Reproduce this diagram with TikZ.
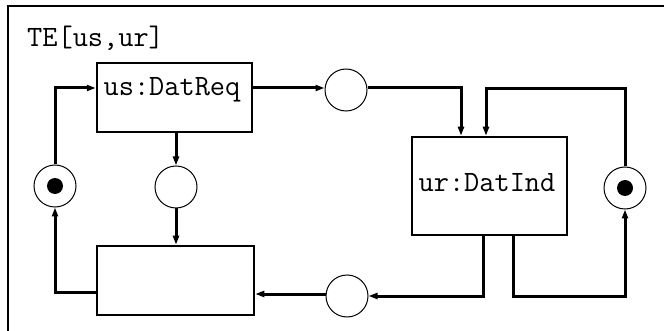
\documentclass[tikz,border=0pt]{standalone}
\usetikzlibrary{arrows.meta}
\begin{document}
\begin{tikzpicture}[x=1pt,y=-1pt,
  wire/.style={line width=3pt,-{Triangle[length=9pt,width=6pt]}},
  plainwire/.style={line width=3pt},
  trans/.style={draw,line width=2.5pt,rectangle,inner sep=0pt},
  place/.style={draw,line width=1pt,circle,minimum size=42pt,inner sep=0pt},
  token/.style={fill,circle,minimum size=16pt,inner sep=0pt},
  lbl/.style={font=\fontsize{29.5}{35}\selectfont\ttfamily,inner sep=0pt}]
  \useasboundingbox (0,0) rectangle (664,331);
  \clip (0,0) rectangle (664,331);
  % outer frame (runs past the page edge on the right and bottom)
  \draw[line width=2.5pt] (8,360) -- (8,6) -- (700,6);
  \node[lbl,anchor=base west] (title) at (27,47) {TE[us,ur]};

  % transitions
  \node[trans,minimum width=155pt,minimum height=69pt] (us) at (174.5,97.5) {};
  \node[lbl] (uslbl) at (172,90) {us:DatReq};
  \node[trans,minimum width=155pt,minimum height=98pt] (ur) at (489.5,186) {};
  \node[lbl] (urlbl) at (487,183) {ur:DatInd};
  \node[trans,minimum width=157pt,minimum height=69pt] (env) at (175.5,280.5) {};

  % places
  \node[place] (pl) at (55,186) {};
  \node[token] (tl) at (pl.center) {};
  \node[place] (pm) at (176,187) {};
  \node[place] (pt) at (346,90) {};
  \node[place] (pb) at (347,296) {};
  \node[place] (pr) at (625,188) {};
  \node[token] (tr) at (pr.center) {};

  % arcs
  \draw[wire] (pl.north) |- (us.west |- 0,88);
  \draw[wire] (us.east |- 0,88) -- (pt.west |- 0,88);
  \draw[wire] (pt.east |- 0,88) -| (ur.north -| 461,0);
  \draw[wire] (pr.north) |- (486,89) -- (ur.north -| 486,0);
  \draw[wire] (ur.south -| 483,0) |- (pb.east);
  \draw[wire] (ur.south -| 513,0) |- (625,296) -- (pr.south);
  \draw[wire] (pb.west |- 0,294) -- (env.east |- 0,294);
  \draw[wire] (env.west |- 0,292) -| (pl.south);
  \draw[wire] (us.south -| pm.north) -- (pm.north);
  \draw[wire] (pm.south) -- (env.north -| pm.south);
\end{tikzpicture}
\end{document}
